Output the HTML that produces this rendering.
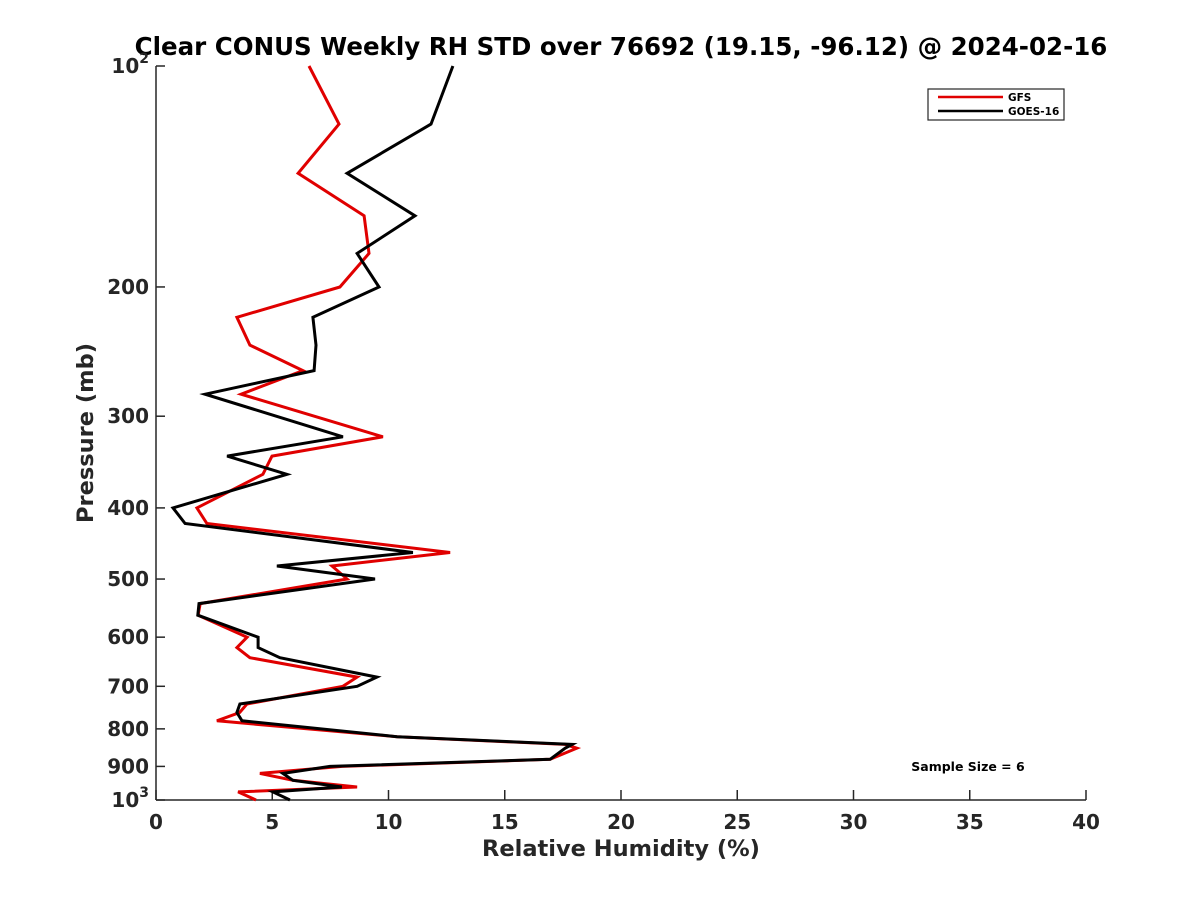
<!DOCTYPE html>
<html><head><meta charset="utf-8"><style>
html,body{margin:0;padding:0;background:#fff;}
svg text{font-family:"DejaVu Sans","Liberation Sans",sans-serif;font-weight:bold;}
</style></head><body>
<svg id="chart" width="1200" height="900" xmlns="http://www.w3.org/2000/svg">
<rect width="1200" height="900" fill="#fff"/>
<text x="621" y="55" font-size="24.5" text-anchor="middle" fill="#000">Clear CONUS Weekly RH STD over 76692 (19.15, -96.12) @ 2024-02-16</text>
<g id="axes"></g>
<g id="series"></g>
<text x="621" y="856" font-size="22.5" text-anchor="middle" fill="#262626">Relative Humidity (%)</text>
<text transform="translate(93,433) rotate(-90)" font-size="22.5" text-anchor="middle" fill="#262626">Pressure (mb)</text>
<text x="968" y="771" font-size="12.5" text-anchor="middle" fill="#000">Sample Size = 6</text>
<g>
<rect x="928" y="89" width="136" height="31" fill="#fff" stroke="#262626" stroke-width="1.2"/>
<line x1="938" y1="97" x2="1003" y2="97" stroke="#e00000" stroke-width="2.5"/>
<text x="1008" y="101" font-size="10.5" fill="#000">GFS</text>
<line x1="938" y1="111" x2="1003" y2="111" stroke="#000" stroke-width="2.5"/>
<text x="1008" y="115" font-size="10.5" fill="#000">GOES-16</text>
</g>
</svg>
<script>
const pressureLevels=[100,120,140,160,180,200,220,240,260,280,320,340,360,400,420,460,480,500,540,560,600,620,640,680,700,740,760,780,820,840,850,880,900,920,940,960,975,1000];
const gfsRH=[6.58,7.87,6.11,8.95,9.16,7.91,3.48,4.04,6.32,3.66,9.76,4.99,4.6,1.76,2.19,12.65,7.57,8.22,1.9,1.81,3.92,3.48,4.04,8.65,8.04,3.91,3.6,2.62,10.37,17.6,18.1,16.95,8.0,4.47,5.89,8.65,3.53,4.3];
const goesRH=[12.77,11.83,8.22,11.14,8.65,9.59,6.75,6.88,6.8,2.11,8.04,3.06,5.63,0.73,1.25,11.05,5.2,9.42,1.85,1.8,4.39,4.39,5.33,9.5,8.65,3.61,3.48,3.7,10.37,17.9,17.6,16.95,7.48,5.46,5.89,7.99,5.03,5.76];
const xTicks=[0,5,10,15,20,25,30,35,40];
const yTicks=[100,200,300,400,500,600,700,800,900,1000];
const yTickLabels=["10^2","200","300","400","500","600","700","800","900","10^3"];

const X0=156,X1=1086,Y0=66,Y1=800;
const xs=v=>X0+(v-0)/40*(X1-X0);
const ys=p=>Y0+Math.log10(p/100)*(Y1-Y0);
const NS="http://www.w3.org/2000/svg";
function mk(tag,attrs,parent){const e=document.createElementNS(NS,tag);for(const k in attrs)e.setAttribute(k,attrs[k]);parent.appendChild(e);return e;}
const axes=document.getElementById('axes');
let a=mk('line',{x1:X0,y1:Y0,x2:X0,y2:Y1,stroke:'#262626','stroke-width':1.5},axes);


a=mk('line',{x1:X0,y1:Y1,x2:X1,y2:Y1,stroke:'#262626','stroke-width':1.5},axes);


xTicks.forEach(v=>{
  const x=xs(v);
  mk('line',{x1:x,y1:Y1,x2:x,y2:Y1-10,stroke:'#262626','stroke-width':1.5},axes);
  const t=mk('text',{x:x,y:Y1+29,'font-size':20,'text-anchor':'middle',fill:'#262626'},axes);
  t.textContent=v;
  
  
});
yTicks.forEach((p,i)=>{
  const y=ys(p);
  mk('line',{x1:X0,y1:y,x2:X0+9,y2:y,stroke:'#262626','stroke-width':1.5},axes);
  const lbl=yTickLabels[i];
  const t=mk('text',{x:X0-7,y:y+7,'font-size':20,'text-anchor':'end',fill:'#262626'},axes);
  if(lbl.indexOf('^')>0){
    const parts=lbl.split('^');
    const b=mk('tspan',{},t);b.textContent=parts[0];
    const s=mk('tspan',{dy:-10,'font-size':14},t);s.textContent=parts[1];
  } else t.textContent=lbl;
  
  
});
const ser=document.getElementById('series');
function line(vals,color,name){
  const d=vals.map((v,i)=>(i?'L':'M')+xs(v).toFixed(1)+','+ys(pressureLevels[i]).toFixed(1)).join(' ');
  const p=mk('path',{d:d,fill:'none',stroke:color,'stroke-width':3,'stroke-linejoin':'miter'},ser);
  
  
}
line(gfsRH,'#e00000','gfs-line');
line(goesRH,'#000000','goes16-line');
</script>
</body></html>
